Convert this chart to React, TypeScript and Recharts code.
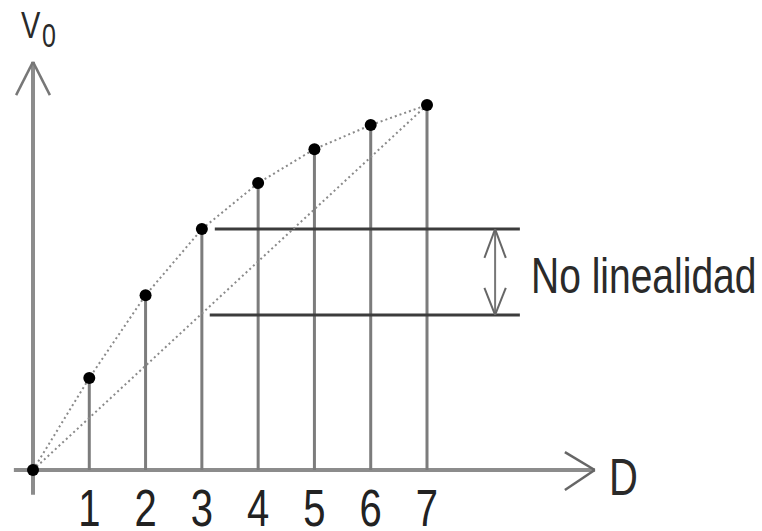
import { ComposedChart, Line, XAxis, YAxis, ReferenceLine, Customized } from "recharts";

// distance steps and measured output (arbitrary units, last point = 10)
const distance = [0, 1, 2, 3, 4, 5, 6, 7];
const output = [0, 2.52, 4.79, 6.6, 7.86, 8.79, 9.45, 10];
const tickValues = [1, 2, 3, 4, 5, 6, 7];
const idealEnds = [0, 10];
const upperLevel = 6.6;
const lowerLevel = 4.25;
const gapStart = [3.23, 3.14];
const gapEnd = 8.65;
const gapArrowX = 8.21;

const curveData = distance.map((d, i) => ({ x: d, v: output[i] }));
const idealData = [
  { x: distance[0], v: idealEnds[0] },
  { x: distance[distance.length - 1], v: idealEnds[1] },
];

const FONT = "'Liberation Sans', Arial, sans-serif";
const AXIS = "#8c8c8c";
const STEM = "#7c7c7c";
const DARK = "#3c3c3c";

type Pt = { x: number; y: number };
const seg = (a: Pt, b: Pt, stroke: string, width: number, key: string) => (
  <ReferenceLine key={key} segment={[a, b]} stroke={stroke} strokeWidth={width} ifOverflow="visible" />
);

function Tick(props: any) {
  const { x, y, payload } = props;
  return (
    <text
      transform={`translate(${x},${y + 56}) scale(1,1.28)`}
      textAnchor="middle"
      fontFamily={FONT}
      fontSize={40}
      fill="#222"
    >
      {payload.value}
    </text>
  );
}

function Labels() {
  return (
    <g fontFamily={FONT} fill="#2a2a2a">
      <text transform="translate(21,38) scale(1,1.3)" fontSize={29}>V</text>
      <text transform="translate(42,47) scale(1,1.3)" fontSize={25}>0</text>
      <text transform="translate(609,495) scale(1,1.3)" fontSize={40}>D</text>
      <text transform="translate(531,293) scale(1,1.3)" fontSize={39}>No linealidad</text>
    </g>
  );
}

export default function App() {
  const xMax = distance[distance.length - 1];
  return (
    <div style={{ position: "absolute", left: 0, top: 0, width: 762, height: 531, background: "#fff" }}>
      <ComposedChart width={762} height={531} margin={{ top: 105, right: 335, bottom: 21, left: 33 }}>
        <XAxis
          type="number"
          dataKey="x"
          domain={[0, xMax]}
          ticks={tickValues}
          axisLine={false}
          tickLine={false}
          tickSize={0}
          tickMargin={0}
          height={40}
          tick={<Tick />}
          interval={0}
        />
        <YAxis type="number" domain={[0, 10]} hide />

        {/* axes with arrow heads */}
        {seg({ x: -0.34, y: 0 }, { x: 9.98, y: 0 }, AXIS, 4, "xa")}
        {seg({ x: 9.45, y: 0.49 }, { x: 9.98, y: 0 }, "#666", 2.5, "xa1")}
        {seg({ x: 9.45, y: -0.55 }, { x: 9.98, y: 0 }, "#666", 2.5, "xa2")}
        {seg({ x: 0, y: -0.68 }, { x: 0, y: 11.18 }, AXIS, 4, "ya")}
        {seg({ x: -0.3, y: 10.27 }, { x: 0, y: 11.18 }, "#777", 2.5, "ya1")}
        {seg({ x: 0.3, y: 10.27 }, { x: 0, y: 11.18 }, "#777", 2.5, "ya2")}

        {/* stems from each point down to the axis */}
        {distance.slice(1).map((d, i) => seg({ x: d, y: 0 }, { x: d, y: output[i + 1] }, STEM, 3, `s${d}`))}

        {/* non-linearity band */}
        {seg({ x: gapStart[0], y: upperLevel }, { x: gapEnd, y: upperLevel }, DARK, 3, "hu")}
        {seg({ x: gapStart[1], y: lowerLevel }, { x: gapEnd, y: lowerLevel }, DARK, 3, "hl")}
        {seg({ x: gapArrowX, y: lowerLevel }, { x: gapArrowX, y: upperLevel }, "#777", 2, "ga")}
        {seg({ x: gapArrowX - 0.19, y: 5.81 }, { x: gapArrowX, y: upperLevel }, "#666", 2, "gu1")}
        {seg({ x: gapArrowX + 0.19, y: 5.81 }, { x: gapArrowX, y: upperLevel }, "#666", 2, "gu2")}
        {seg({ x: gapArrowX - 0.19, y: 4.99 }, { x: gapArrowX, y: lowerLevel }, "#666", 2, "gl1")}
        {seg({ x: gapArrowX + 0.19, y: 4.99 }, { x: gapArrowX, y: lowerLevel }, "#666", 2, "gl2")}

        <Line
          data={idealData}
          dataKey="v"
          type="linear"
          stroke="#8a8a8a"
          strokeWidth={2}
          strokeDasharray="2 3"
          dot={false}
          activeDot={false}
          isAnimationActive={false}
        />
        <Line
          data={curveData}
          dataKey="v"
          type="linear"
          stroke="#8a8a8a"
          strokeWidth={2}
          strokeDasharray="2 3"
          dot={{ r: 6, fill: "#000", stroke: "none", clipDot: false }}
          activeDot={false}
          isAnimationActive={false}
        />
        <Customized component={<Labels />} />
      </ComposedChart>
    </div>
  );
}
